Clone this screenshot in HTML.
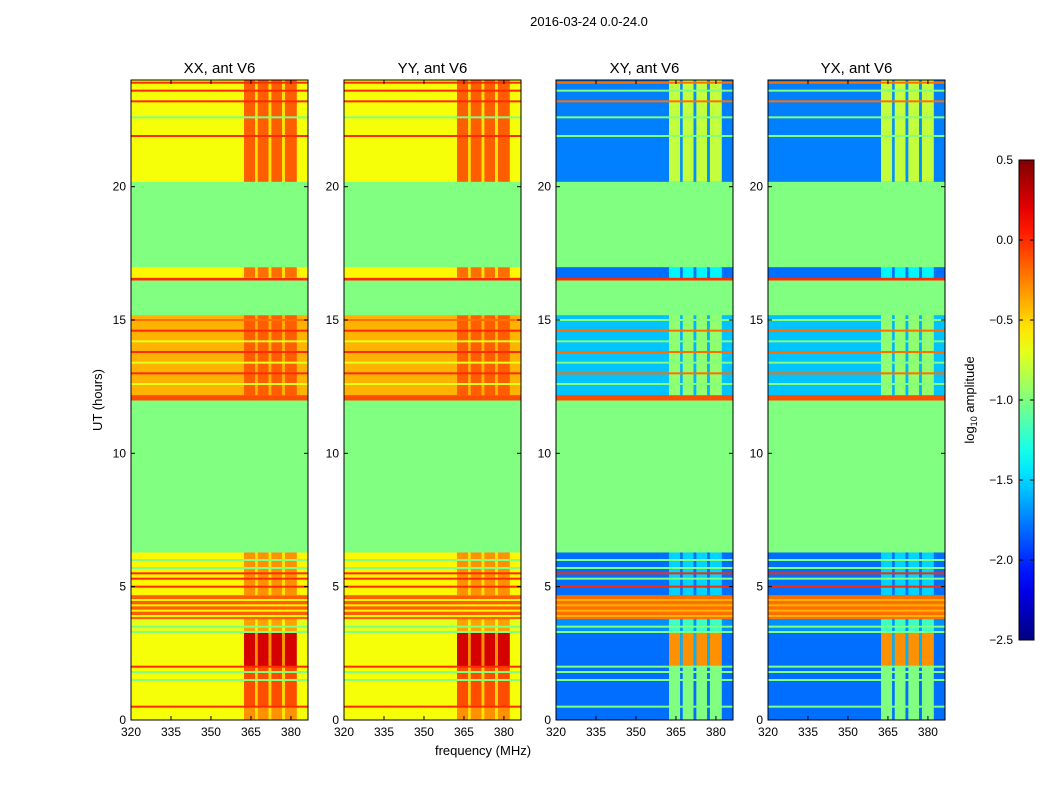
<!DOCTYPE html>
<html><head><meta charset="utf-8"><style>
body{margin:0;background:#fff;}
svg text{font-family:"Liberation Sans",sans-serif;fill:#000;}
</style></head><body>
<svg id="fig" width="1050" height="800" xmlns="http://www.w3.org/2000/svg">
<rect width="1050" height="800" fill="#fff"/>
<text x="589" y="26" font-size="13" text-anchor="middle">2016-03-24 0.0-24.0</text>
<text x="483" y="755" font-size="13" text-anchor="middle">frequency (MHz)</text>
<text transform="translate(102,400) rotate(-90)" font-size="13" text-anchor="middle">UT (hours)</text>
<text transform="translate(974,400) rotate(-90)" font-size="13" text-anchor="middle">log<tspan font-size="9" dy="3">10</tspan><tspan dy="-3"> amplitude</tspan></text>
<g id="panels"></g>
<g id="cbar"></g>
</svg>
<script>
// ---- data ----
const panelTitles = ["XX, ant V6","YY, ant V6","XY, ant V6","YX, ant V6"];
const panelKinds = ["par","par","cross","cross"];
const xTicks = [320,335,350,365,380];
const yTicks = [0,5,10,15,20];
const cbTicks = [0.5,0.0,-0.5,-1.0,-1.5,-2.0,-2.5];
// bands: start hour, end hour
const bandStart = [0,0.5,2.0,3.3,3.8,4.7,6.3,12.0,12.2,15.2,16.5,16.6,17.0,20.2];
const bandEnd   = [0.5,2.0,3.3,3.8,4.7,6.3,12.0,12.2,15.2,16.5,16.6,17.0,20.2,24.0];
// parallel-hand values (low freq, high freq channels, gaps)
const parLow  = [-0.65,-0.65,-0.65,-0.7,-0.15,-0.6,-1.0,-0.1,-0.4,-1.0,0.0,-0.6,-1.0,-0.65];
const parHigh = [-0.3,-0.1, 0.25,-0.35,-0.15,-0.3,-1.0,-0.1,-0.15,-1.0,0.0,-0.2,-1.0,-0.15];
const parGap  = [-0.55,-0.5,-0.3,-0.6,-0.15,-0.55,-1.0,-0.1,-0.4,-1.0,0.0,-0.55,-1.0,-0.55];
// cross-hand values
const crLow  = [-1.8,-1.8,-1.8,-1.7,-0.2,-1.8,-1.0,-0.1,-1.55,-1.0,0.0,-1.8,-1.0,-1.75];
const crHigh = [-1.0,-1.0,-0.3,-1.2,-0.2,-1.5,-1.0,-0.1,-0.95,-1.0,0.0,-1.4,-1.0,-0.8];
const crGap  = [-1.8,-1.8,-1.6,-1.7,-0.2,-1.8,-1.0,-0.1,-1.6,-1.0,0.0,-1.8,-1.0,-1.7];
// thin horizontal lines: hour, value
const lineHour = [0.5,1.5,1.8,2.0,3.3,3.5,3.9,4.1,4.3,4.5,5.0,5.3,5.5,5.7,6.0,12.6,13.0,13.4,13.8,14.2,14.6,15.0,21.9,22.6,23.2,23.6,23.9];
const lineValPar = [0.0,-1.0,-1.0,0.0,-1.0,-1.0,-0.6,-0.6,-0.6,-0.6,0.0,0.0,0.0,-1.0,-1.0,-0.7,0.0,-0.7,0.0,-0.7,0.0,-0.2,0.0,-1.0,0.0,0.0,0.0];
const lineValCr  = [-1.0,-1.0,-1.0,-1.0,-1.0,-1.0,-0.4,-0.4,-0.4,-0.4,0.0,-1.0,0.0,-1.0,-1.0,-1.0,-0.2,-1.0,-0.2,-1.0,-0.2,-1.0,-1.0,-1.0,-0.2,-1.0,-0.2];
// high-freq channel blocks (MHz) and gaps
const chanStart = [362.4,367.5,372.6,377.7];
const chanEnd   = [366.6,371.6,376.7,382.2];
const gapStart  = [366.6,371.6,376.7];
const gapEnd    = [367.5,372.6,377.7];

// ---- geometry ----
const panelX = [131,344,556,768], PW=177, PT=80, PB=720;
const F0=320, F1=386.4;
const yS = h => PB - (h/24)*(PB-PT);
function jet(v){
  let t=(v+2.5)/3; t=Math.max(0,Math.min(1,t));
  const c=x=>Math.round(255*Math.max(0,Math.min(1,x)));
  return `rgb(${c(1.5-Math.abs(4*t-3))},${c(1.5-Math.abs(4*t-2))},${c(1.5-Math.abs(4*t-1))})`;
}
const NS="http://www.w3.org/2000/svg";
function mk(tag,attrs,parent){const e=document.createElementNS(NS,tag);for(const k in attrs)e.setAttribute(k,attrs[k]);parent.appendChild(e);return e;}
const G=document.getElementById('panels');
panelX.forEach((px,pi)=>{
  const xS = f => px + (f-F0)/(F1-F0)*PW;
  const g=mk('g',{},G);
  
  
  const par=panelKinds[pi]==="par";
  const lo=par?parLow:crLow, hi=par?parHigh:crHigh, gp=par?parGap:crGap;
  for(let b=0;b<bandStart.length;b++){
    const y0=yS(bandEnd[b]), y1=yS(bandStart[b]);
    const r=mk('rect',{x:px,y:y0,width:PW,height:y1-y0+0.5,fill:jet(lo[b])},g);
    
    
    for(let c=0;c<chanStart.length;c++){
      const r2=mk('rect',{x:xS(chanStart[c]),y:y0,width:xS(chanEnd[c])-xS(chanStart[c]),height:y1-y0+0.5,fill:jet(hi[b])},g);
      
      
    }
    for(let c=0;c<gapStart.length;c++){
      const r3=mk('rect',{x:xS(gapStart[c]),y:y0,width:xS(gapEnd[c])-xS(gapStart[c]),height:y1-y0+0.5,fill:jet(gp[b])},g);
      
      
    }
  }
  const lv=par?lineValPar:lineValCr;
  lineHour.forEach((h,i)=>{
    const l=mk('rect',{x:px,y:yS(h)-1,width:PW,height:2,fill:jet(lv[i])},g);
    
    
  });
  mk('rect',{x:px,y:PT,width:PW,height:PB-PT,fill:'none',stroke:'#000','stroke-width':1},g);
  const t=mk('text',{x:px+PW/2,y:PT-7,'font-size':15,'text-anchor':'middle'},g);
  t.textContent=panelTitles[pi];
  
  
  xTicks.forEach(f=>{
    mk('line',{x1:xS(f),x2:xS(f),y1:PB,y2:PB-4,stroke:'#000'},g);
    mk('line',{x1:xS(f),x2:xS(f),y1:PT,y2:PT+4,stroke:'#000'},g);
    const tx=mk('text',{x:xS(f),y:PB+16,'font-size':12,'text-anchor':'middle'},g);
    tx.textContent=f;
    
    
  });
  yTicks.forEach(h=>{
    mk('line',{x1:px,x2:px+4,y1:yS(h),y2:yS(h),stroke:'#000'},g);
    mk('line',{x1:px+PW,x2:px+PW-4,y1:yS(h),y2:yS(h),stroke:'#000'},g);
    const ty=mk('text',{x:px-5,y:yS(h)+4,'font-size':12,'text-anchor':'end'},g);
    ty.textContent=h;
    
    
  });
});
// colorbar
const CB=document.getElementById('cbar');
const cbX=1019,cbW=15,cbT=160,cbB=640;
const cS=v=>cbB-(v+2.5)/3*(cbB-cbT);
const defs=mk('defs',{},CB);
const grad=mk('linearGradient',{id:'jetg',x1:0,y1:1,x2:0,y2:0},defs);
for(let i=0;i<=20;i++){const v=-2.5+3*i/20;mk('stop',{offset:(i/20),'stop-color':jet(v)},grad);}
const cb=mk('rect',{x:cbX,y:cbT,width:cbW,height:cbB-cbT,fill:'url(#jetg)',stroke:'#000'},CB);


cbTicks.forEach(v=>{
  mk('line',{x1:cbX,x2:cbX+4,y1:cS(v),y2:cS(v),stroke:'#000'},CB);
  mk('line',{x1:cbX+cbW,x2:cbX+cbW-4,y1:cS(v),y2:cS(v),stroke:'#000'},CB);
  const t=mk('text',{x:1013,y:cS(v)+4,'font-size':12,'text-anchor':'end'},CB);
  t.textContent=(v<0?'\u2212':'')+Math.abs(v).toFixed(1);
  
  
});
</script>
</body></html>
